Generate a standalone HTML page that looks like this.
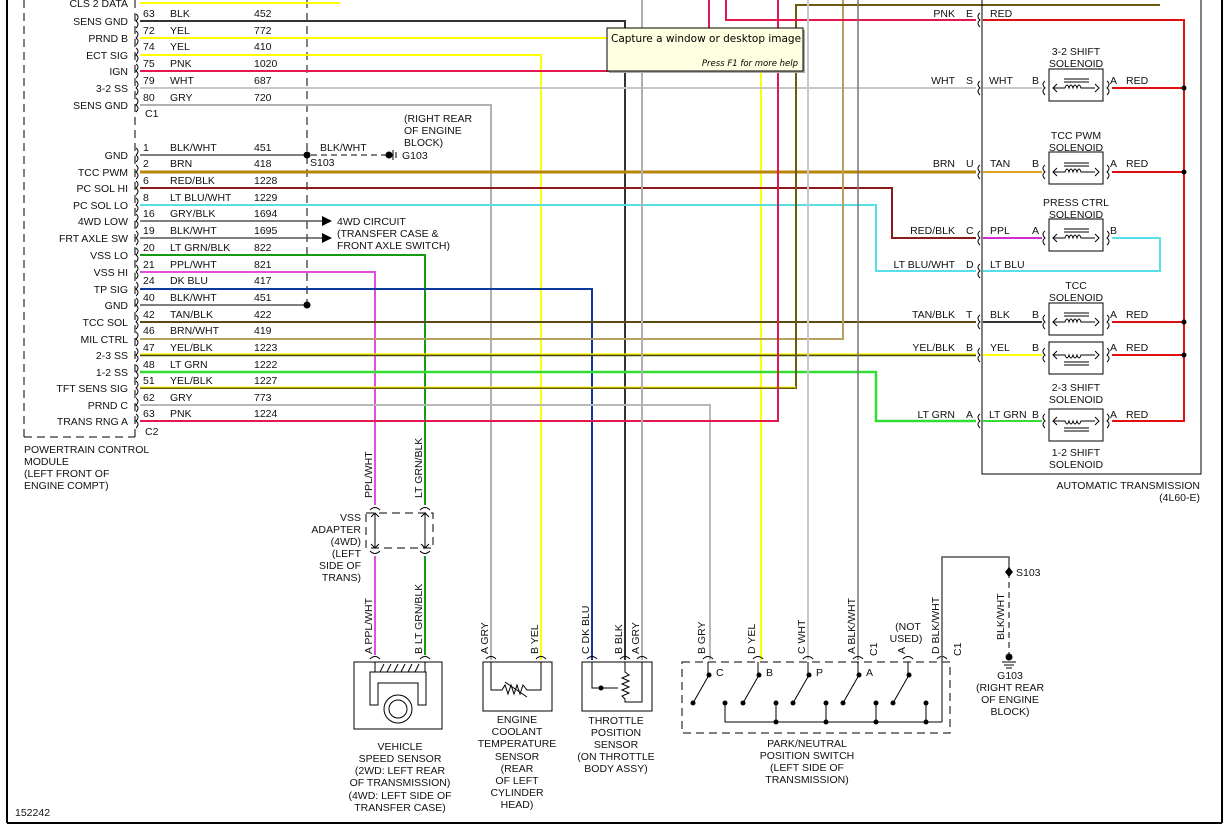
<!DOCTYPE html>
<html><head><meta charset="utf-8"><style>
html,body{margin:0;padding:0;background:#fff;}
svg{display:block;}
text{font-family:"Liberation Sans",sans-serif;font-size:10.5px;fill:#111;}
.r{text-anchor:end}.m{text-anchor:middle}
</style></head><body>
<svg width="1229" height="828" viewBox="0 0 1229 828" xmlns="http://www.w3.org/2000/svg">
<rect width="1229" height="828" fill="#fff"/>
<line x1="7" y1="0" x2="7" y2="823" stroke="#000" stroke-width="2"/>
<line x1="7" y1="823" x2="1222" y2="823" stroke="#000" stroke-width="2"/>
<line x1="1222" y1="0" x2="1222" y2="823" stroke="#000" stroke-width="2"/>
<text x="15" y="816">152242</text>

<g stroke="#000" stroke-width="1" fill="none" stroke-dasharray="8,5">
<line x1="24" y1="0" x2="24" y2="437"/>
<line x1="24" y1="437" x2="135" y2="437"/>
<line x1="135" y1="0" x2="135" y2="437"/>
</g>
<text x="24" y="453">POWERTRAIN CONTROL</text>
<text x="24" y="465">MODULE</text>
<text x="24" y="477">(LEFT FRONT OF</text>
<text x="24" y="489">ENGINE COMPT)</text>
<text x="145" y="117">C1</text>
<text x="145" y="435">C2</text>

<line x1="307" y1="0" x2="307" y2="305" stroke="#000" stroke-dasharray="8,5"/>

<g fill="none" stroke-width="2">
<polyline points="140,3 340,3" stroke="#ffff00"/>
<polyline points="140,21 625,21 625,660" stroke="#333"/>
<polyline points="140,38 608,38" stroke="#ffff00"/>
<polyline points="761,71 761,660" stroke="#ffff00"/>
<polyline points="140,55 541,55 541,660" stroke="#ffff00"/>
<polyline points="140,71 709,71 709,0" stroke="#e3184e"/>
<polyline points="140,88 976,88" stroke="#c8c8c8"/>
<polyline points="140,105 491,105 491,660" stroke="#b0b0b0"/>
<polyline points="140,155 307,155" stroke="#555" stroke-width="1.5"/>
<polyline points="140,172 976,172" stroke="#b8860b" stroke-width="3"/>
<polyline points="140,188 892,188 892,238 976,238" stroke="#8b1a1a"/>
<polyline points="140,205 876,205 876,271 976,271" stroke="#55e0e8"/>
<polyline points="140,221 322,221" stroke="#555" stroke-width="1.5"/>
<polyline points="140,238 322,238" stroke="#555" stroke-width="1.5"/>
<polyline points="140,255 425,255 425,505" stroke="#149a14"/>
<polyline points="425,556 425,655" stroke="#149a14"/>
<polyline points="140,272 375,272 375,505" stroke="#e050e0"/>
<polyline points="375,556 375,655" stroke="#e050e0"/>
<polyline points="140,289 592,289 592,660" stroke="#0a3a9a"/>
<polyline points="140,305 307,305" stroke="#555" stroke-width="1.5"/>
<polyline points="140,322 976,322" stroke="#5a4a10"/>
<polyline points="140,339 843,339 843,0" stroke="#b8a060"/>
<polyline points="140,355 976,355" stroke="#4a4a10" stroke-width="2.5"/>
<polyline points="140,354 976,354" stroke="#ffff00" stroke-width="1.2"/>
<polyline points="140,372 876,372 876,421 976,421" stroke="#33dd33" stroke-width="2.5"/>
<polyline points="140,388 796,388 796,5 1160,5" stroke="#6b5a10"/>
<polyline points="140,387 796,387" stroke="#ffff00" stroke-width="1"/>
<polyline points="140,405 710,405 710,660" stroke="#b8b8b8"/>
<polyline points="140,421 778,421 778,0" stroke="#e3184e"/>
<polyline points="726,0 726,20 976,20" stroke="#e3184e"/>
<polyline points="642,0 642,660" stroke="#b0b0b0"/>
<polyline points="808,0 808,660" stroke="#c8c8c8"/>
<polyline points="858,0 858,660" stroke="#777" stroke-width="1.5"/>
</g>
<g fill="none" stroke="#000" stroke-width="1">
<path d="M136,14 q4,3 0,7 q4,3 0,7"/><path d="M136,31 q4,3 0,7 q4,3 0,7"/><path d="M136,48 q4,3 0,7 q4,3 0,7"/>
<path d="M136,64 q4,3 0,7 q4,3 0,7"/><path d="M136,81 q4,3 0,7 q4,3 0,7"/><path d="M136,98 q4,3 0,7 q4,3 0,7"/>
<path d="M136,148 q4,3 0,7 q4,3 0,7"/><path d="M136,165 q4,3 0,7 q4,3 0,7"/><path d="M136,181 q4,3 0,7 q4,3 0,7"/>
<path d="M136,198 q4,3 0,7 q4,3 0,7"/><path d="M136,214 q4,3 0,7 q4,3 0,7"/><path d="M136,231 q4,3 0,7 q4,3 0,7"/>
<path d="M136,248 q4,3 0,7 q4,3 0,7"/><path d="M136,265 q4,3 0,7 q4,3 0,7"/><path d="M136,282 q4,3 0,7 q4,3 0,7"/>
<path d="M136,298 q4,3 0,7 q4,3 0,7"/><path d="M136,315 q4,3 0,7 q4,3 0,7"/><path d="M136,332 q4,3 0,7 q4,3 0,7"/>
<path d="M136,348 q4,3 0,7 q4,3 0,7"/><path d="M136,365 q4,3 0,7 q4,3 0,7"/><path d="M136,381 q4,3 0,7 q4,3 0,7"/>
<path d="M136,398 q4,3 0,7 q4,3 0,7"/><path d="M136,414 q4,3 0,7 q4,3 0,7"/>
</g>
<g>
<text class="r" x="128" y="7">CLS 2 DATA</text>
<text class="r" x="128" y="25">SENS GND</text><text x="143" y="17">63</text><text x="170" y="17">BLK</text><text x="254" y="17">452</text>
<text class="r" x="128" y="42">PRND B</text><text x="143" y="34">72</text><text x="170" y="34">YEL</text><text x="254" y="34">772</text>
<text class="r" x="128" y="59">ECT SIG</text><text x="143" y="50">74</text><text x="170" y="50">YEL</text><text x="254" y="50">410</text>
<text class="r" x="128" y="75">IGN</text><text x="143" y="67">75</text><text x="170" y="67">PNK</text><text x="254" y="67">1020</text>
<text class="r" x="128" y="92">3-2 SS</text><text x="143" y="84">79</text><text x="170" y="84">WHT</text><text x="254" y="84">687</text>
<text class="r" x="128" y="109">SENS GND</text><text x="143" y="101">80</text><text x="170" y="101">GRY</text><text x="254" y="101">720</text>
<text class="r" x="128" y="159">GND</text><text x="143" y="151">1</text><text x="170" y="151">BLK/WHT</text><text x="254" y="151">451</text>
<text class="r" x="128" y="176">TCC PWM</text><text x="143" y="167">2</text><text x="170" y="167">BRN</text><text x="254" y="167">418</text>
<text class="r" x="128" y="192">PC SOL HI</text><text x="143" y="184">6</text><text x="170" y="184">RED/BLK</text><text x="254" y="184">1228</text>
<text class="r" x="128" y="209">PC SOL LO</text><text x="143" y="201">8</text><text x="170" y="201">LT BLU/WHT</text><text x="254" y="201">1229</text>
<text class="r" x="128" y="225">4WD LOW</text><text x="143" y="217">16</text><text x="170" y="217">GRY/BLK</text><text x="254" y="217">1694</text>
<text class="r" x="128" y="242">FRT AXLE SW</text><text x="143" y="234">19</text><text x="170" y="234">BLK/WHT</text><text x="254" y="234">1695</text>
<text class="r" x="128" y="259">VSS LO</text><text x="143" y="251">20</text><text x="170" y="251">LT GRN/BLK</text><text x="254" y="251">822</text>
<text class="r" x="128" y="276">VSS HI</text><text x="143" y="268">21</text><text x="170" y="268">PPL/WHT</text><text x="254" y="268">821</text>
<text class="r" x="128" y="293">TP SIG</text><text x="143" y="284">24</text><text x="170" y="284">DK BLU</text><text x="254" y="284">417</text>
<text class="r" x="128" y="309">GND</text><text x="143" y="301">40</text><text x="170" y="301">BLK/WHT</text><text x="254" y="301">451</text>
<text class="r" x="128" y="326">TCC SOL</text><text x="143" y="318">42</text><text x="170" y="318">TAN/BLK</text><text x="254" y="318">422</text>
<text class="r" x="128" y="343">MIL CTRL</text><text x="143" y="334">46</text><text x="170" y="334">BRN/WHT</text><text x="254" y="334">419</text>
<text class="r" x="128" y="359">2-3 SS</text><text x="143" y="351">47</text><text x="170" y="351">YEL/BLK</text><text x="254" y="351">1223</text>
<text class="r" x="128" y="376">1-2 SS</text><text x="143" y="368">48</text><text x="170" y="368">LT GRN</text><text x="254" y="368">1222</text>
<text class="r" x="128" y="392">TFT SENS SIG</text><text x="143" y="384">51</text><text x="170" y="384">YEL/BLK</text><text x="254" y="384">1227</text>
<text class="r" x="128" y="409">PRND C</text><text x="143" y="401">62</text><text x="170" y="401">GRY</text><text x="254" y="401">773</text>
<text class="r" x="128" y="425">TRANS RNG A</text><text x="143" y="417">63</text><text x="170" y="417">PNK</text><text x="254" y="417">1224</text>
</g>
<circle cx="307" cy="155" r="3.5" fill="#000"/><circle cx="307" cy="305" r="3.5" fill="#000"/>
<line x1="311" y1="155" x2="388" y2="155" stroke="#000" stroke-dasharray="6,4"/>
<circle cx="389" cy="155" r="3.5" fill="#000"/>
<line x1="393" y1="150" x2="393" y2="160" stroke="#000"/><line x1="396" y1="152" x2="396" y2="158" stroke="#000"/>
<text x="320" y="151">BLK/WHT</text><text x="310" y="166">S103</text>
<text x="404" y="122">(RIGHT REAR</text><text x="404" y="134">OF ENGINE</text><text x="404" y="146">BLOCK)</text><text x="402" y="159">G103</text>
<path d="M322,216 l10,5 l-10,5z M322,233 l10,5 l-10,5z" fill="#000"/>
<text x="337" y="225">4WD CIRCUIT</text><text x="337" y="237">(TRANSFER CASE &amp;</text><text x="337" y="249">FRONT AXLE SWITCH)</text>

<rect x="982" y="-2" width="219" height="476" fill="none" stroke="#000"/>
<text class="r" x="1200" y="489">AUTOMATIC TRANSMISSION</text>
<text class="r" x="1200" y="501">(4L60-E)</text>
<g fill="none" stroke-width="2">
<polyline points="983,20 1184,20 1184,421 1112,421" stroke="#e01010"/>
<line x1="1112" y1="88" x2="1184" y2="88" stroke="#e01010"/>
<line x1="1112" y1="172" x2="1184" y2="172" stroke="#e01010"/>
<line x1="1112" y1="322" x2="1184" y2="322" stroke="#e01010"/>
<line x1="1112" y1="355" x2="1184" y2="355" stroke="#e01010"/>
<line x1="983" y1="88" x2="1042" y2="88" stroke="#c8c8c8"/>
<line x1="983" y1="172" x2="1042" y2="172" stroke="#e0a020"/>
<line x1="983" y1="238" x2="1042" y2="238" stroke="#cc30cc"/>
<polyline points="1112,238 1160,238 1160,271 983,271" stroke="#55e0e8"/>
<line x1="983" y1="322" x2="1042" y2="322" stroke="#333"/>
<line x1="983" y1="355" x2="1042" y2="355" stroke="#ffff00"/>
<line x1="983" y1="421" x2="1042" y2="421" stroke="#33dd33"/>
</g>
<g fill="#000"><circle cx="1184" cy="88" r="2.5"/><circle cx="1184" cy="172" r="2.5"/><circle cx="1184" cy="322" r="2.5"/><circle cx="1184" cy="355" r="2.5"/></g>
<g fill="none" stroke="#000">
<path d="M980,13 q-4,3 0,7 q-4,3 0,7"/><path d="M980,81 q-4,3 0,7 q-4,3 0,7"/><path d="M980,165 q-4,3 0,7 q-4,3 0,7"/>
<path d="M980,231 q-4,3 0,7 q-4,3 0,7"/><path d="M980,264 q-4,3 0,7 q-4,3 0,7"/><path d="M980,315 q-4,3 0,7 q-4,3 0,7"/>
<path d="M980,348 q-4,3 0,7 q-4,3 0,7"/><path d="M980,414 q-4,3 0,7 q-4,3 0,7"/>
</g>
<g>
<text class="r" x="955" y="17">PNK</text><text x="966" y="17">E</text><text x="990" y="17">RED</text>
<text class="r" x="955" y="84">WHT</text><text x="966" y="84">S</text><text x="989" y="84">WHT</text><text x="1032" y="84">B</text><text x="1110" y="84">A</text><text x="1126" y="84">RED</text>
<text class="r" x="955" y="167">BRN</text><text x="966" y="167">U</text><text x="990" y="167">TAN</text><text x="1032" y="167">B</text><text x="1110" y="167">A</text><text x="1126" y="167">RED</text>
<text class="r" x="955" y="234">RED/BLK</text><text x="966" y="234">C</text><text x="990" y="234">PPL</text><text x="1032" y="234">A</text><text x="1110" y="234">B</text>
<text class="r" x="955" y="268">LT BLU/WHT</text><text x="966" y="268">D</text><text x="990" y="268">LT BLU</text>
<text class="r" x="955" y="318">TAN/BLK</text><text x="966" y="318">T</text><text x="990" y="318">BLK</text><text x="1032" y="318">B</text><text x="1110" y="318">A</text><text x="1126" y="318">RED</text>
<text class="r" x="955" y="351">YEL/BLK</text><text x="966" y="351">B</text><text x="990" y="351">YEL</text><text x="1032" y="351">B</text><text x="1110" y="351">A</text><text x="1126" y="351">RED</text>
<text class="r" x="955" y="418">LT GRN</text><text x="966" y="418">A</text><text x="989" y="418">LT GRN</text><text x="1032" y="418">B</text><text x="1110" y="418">A</text><text x="1126" y="418">RED</text>
<text class="m" x="1076" y="55">3-2 SHIFT</text><text class="m" x="1076" y="67">SOLENOID</text>
<text class="m" x="1076" y="139">TCC PWM</text><text class="m" x="1076" y="151">SOLENOID</text>
<text class="m" x="1076" y="206">PRESS CTRL</text><text class="m" x="1076" y="218">SOLENOID</text>
<text class="m" x="1076" y="289">TCC</text><text class="m" x="1076" y="301">SOLENOID</text>
<text class="m" x="1076" y="391">2-3 SHIFT</text><text class="m" x="1076" y="403">SOLENOID</text>
<text class="m" x="1076" y="456">1-2 SHIFT</text><text class="m" x="1076" y="468">SOLENOID</text>
</g>
<g fill="none" stroke="#000">
<rect x="1049" y="69" width="54" height="32"/><rect x="1049" y="152" width="54" height="32"/>
<rect x="1049" y="219" width="54" height="32"/><rect x="1049" y="303" width="54" height="32"/>
<rect x="1049" y="342" width="54" height="32"/><rect x="1049" y="409" width="54" height="32"/>
<g id="coil"><path d="M1053,88 h12 q2,-6 4,0 q2,-6 4,0 q2,-6 4,0 q2,-6 4,0 h14"/><line x1="1064" y1="79" x2="1089" y2="79"/><line x1="1064" y1="82" x2="1089" y2="82"/><path d="M1057,84 l-4,4 l4,4 M1095,84 l4,4 l-4,4"/></g>
<use href="#coil" y="84"/><use href="#coil" y="150"/><use href="#coil" y="234"/>
<g id="coil2"><path d="M1053,355 h12 q2,6 4,0 q2,6 4,0 q2,6 4,0 q2,6 4,0 h14"/><line x1="1064" y1="362" x2="1089" y2="362"/><line x1="1064" y1="365" x2="1089" y2="365"/><path d="M1057,351 l-4,4 l4,4 M1095,351 l4,4 l-4,4"/></g>
<use href="#coil2" y="66"/>
<path d="M1045,81 q-4,3 0,7 q-4,3 0,7 M1107,81 q4,3 0,7 q4,3 0,7"/>
<path d="M1045,165 q-4,3 0,7 q-4,3 0,7 M1107,165 q4,3 0,7 q4,3 0,7"/>
<path d="M1045,231 q-4,3 0,7 q-4,3 0,7 M1107,231 q4,3 0,7 q4,3 0,7"/>
<path d="M1045,315 q-4,3 0,7 q-4,3 0,7 M1107,315 q4,3 0,7 q4,3 0,7"/>
<path d="M1045,348 q-4,3 0,7 q-4,3 0,7 M1107,348 q4,3 0,7 q4,3 0,7"/>
<path d="M1045,414 q-4,3 0,7 q-4,3 0,7 M1107,414 q4,3 0,7 q4,3 0,7"/>
</g>

<rect x="609" y="30" width="196" height="43" fill="#aaa"/>
<rect x="607" y="28" width="196" height="43" fill="#ffffe1" stroke="#000"/>
<text x="611" y="42" style="font-size:10.5px;font-family:'DejaVu Sans',sans-serif;fill:#000">Capture a window or desktop image</text>
<text x="798" y="66" class="r" style="font-size:8.5px;font-style:italic;font-family:'DejaVu Sans',sans-serif;fill:#000">Press F1 for more help</text>

<rect x="366" y="513" width="67" height="35" fill="none" stroke="#000" stroke-dasharray="8,5"/>
<g stroke="#000" fill="none">
<line x1="375" y1="513" x2="375" y2="548"/><line x1="425" y1="513" x2="425" y2="548"/>
<path d="M371,517 l4,-4 l4,4 M371,544 l4,4 l4,-4 M421,517 l4,-4 l4,4 M421,544 l4,4 l4,-4"/>
<path d="M370,510 q5,-5 10,0 M420,510 q5,-5 10,0 M370,551 q5,5 10,0 M420,551 q5,5 10,0"/>
</g>
<text class="r" x="361" y="521">VSS</text><text class="r" x="361" y="533">ADAPTER</text><text class="r" x="361" y="545">(4WD)</text>
<text class="r" x="361" y="557">(LEFT</text><text class="r" x="361" y="569">SIDE OF</text><text class="r" x="361" y="581">TRANS)</text>
<text transform="translate(372,498) rotate(-90)">PPL/WHT</text>
<text transform="translate(422,498) rotate(-90)">LT GRN/BLK</text>
<text transform="translate(372,654) rotate(-90)">A   PPL/WHT</text>
<text transform="translate(422,654) rotate(-90)">B   LT GRN/BLK</text>

<g stroke="#000" fill="none">
<rect x="354" y="662" width="88" height="67"/>
<path d="M370,705 v-33 h56 v33 h-8 v-22 h-40 v22z"/>
<path d="M380,672 l4,-8 M387,672 l4,-8 M394,672 l4,-8 M401,672 l4,-8 M408,672 l4,-8 M415,672 l4,-8"/>
<circle cx="398" cy="709" r="14"/><circle cx="398" cy="709" r="9"/>
<line x1="375" y1="662" x2="375" y2="672"/><line x1="425" y1="662" x2="425" y2="672"/>
<path d="M370,659 q5,-5 10,0 M420,659 q5,-5 10,0"/>
</g>
<text class="m" x="400" y="750">VEHICLE</text><text class="m" x="400" y="762">SPEED SENSOR</text>
<text class="m" x="400" y="774">(2WD: LEFT REAR</text><text class="m" x="400" y="786">OF TRANSMISSION)</text>
<text class="m" x="400" y="799">(4WD: LEFT SIDE OF</text><text class="m" x="400" y="811">TRANSFER CASE)</text>

<g stroke="#000" fill="none">
<rect x="483" y="662" width="69" height="49"/>
<polyline points="491,662 491,690 502,690 505,685 508,694 511,685 514,694 517,685 520,694 523,685 527,690 541,690 541,662"/>
<line x1="505" y1="682" x2="527" y2="697"/>
<path d="M486,659 q5,-5 10,0 M536,659 q5,-5 10,0"/>
</g>
<text class="m" x="517" y="723">ENGINE</text><text class="m" x="517" y="735">COOLANT</text><text class="m" x="517" y="747">TEMPERATURE</text>
<text class="m" x="517" y="760">SENSOR</text><text class="m" x="517" y="772">(REAR</text><text class="m" x="517" y="784">OF LEFT</text>
<text class="m" x="517" y="796">CYLINDER</text><text class="m" x="517" y="808">HEAD)</text>
<text transform="translate(488,654) rotate(-90)">A   GRY</text>
<text transform="translate(538,654) rotate(-90)">B   YEL</text>

<g stroke="#000" fill="none">
<rect x="582" y="662" width="70" height="49"/>
<polyline points="592,662 592,688 618,688"/>
<polyline points="625,662 625,672 629,675 622,678 629,681 622,684 629,687 622,690 629,693 622,696 625,699 625,702 642,702 642,662"/>
<path d="M587,659 q5,-5 10,0 M620,659 q5,-5 10,0 M637,659 q5,-5 10,0"/>
</g>
<circle cx="601" cy="688" r="2.5" fill="#000"/>
<text class="m" x="616" y="724">THROTTLE</text><text class="m" x="616" y="736">POSITION</text><text class="m" x="616" y="748">SENSOR</text>
<text class="m" x="616" y="760">(ON THROTTLE</text><text class="m" x="616" y="772">BODY ASSY)</text>
<text transform="translate(589,654) rotate(-90)">C   DK BLU</text>
<text transform="translate(622,654) rotate(-90)">B   BLK</text>
<text transform="translate(639,654) rotate(-90)">A   GRY</text>

<rect x="682" y="662" width="268" height="71" fill="none" stroke="#000" stroke-dasharray="8,5"/>
<g stroke="#000" fill="none">
<line x1="708" y1="662" x2="708" y2="675"/><line x1="758" y1="662" x2="758" y2="675"/><line x1="808" y1="662" x2="808" y2="675"/>
<line x1="858" y1="662" x2="858" y2="675"/><line x1="908" y1="662" x2="908" y2="675"/><line x1="942" y1="662" x2="942" y2="722"/>
<line x1="709" y1="675" x2="693" y2="703"/><line x1="759" y1="675" x2="743" y2="703"/><line x1="809" y1="675" x2="793" y2="703"/>
<line x1="859" y1="675" x2="843" y2="703"/><line x1="909" y1="675" x2="893" y2="703"/>
<polyline points="725,703 725,722 942,722"/>
<line x1="776" y1="703" x2="776" y2="722"/><line x1="826" y1="703" x2="826" y2="722"/><line x1="876" y1="703" x2="876" y2="722"/><line x1="926" y1="703" x2="926" y2="722"/>
<path d="M703,659 q5,-5 10,0 M753,659 q5,-5 10,0 M803,659 q5,-5 10,0 M853,659 q5,-5 10,0 M903,659 q5,-5 10,0 M937,659 q5,-5 10,0"/>
</g>
<g fill="#000">
<circle cx="709" cy="675" r="2.5"/><circle cx="759" cy="675" r="2.5"/><circle cx="809" cy="675" r="2.5"/><circle cx="859" cy="675" r="2.5"/><circle cx="909" cy="675" r="2.5"/>
<circle cx="693" cy="703" r="2.5"/><circle cx="743" cy="703" r="2.5"/><circle cx="793" cy="703" r="2.5"/><circle cx="843" cy="703" r="2.5"/><circle cx="893" cy="703" r="2.5"/>
<circle cx="725" cy="703" r="2.5"/><circle cx="776" cy="703" r="2.5"/><circle cx="826" cy="703" r="2.5"/><circle cx="876" cy="703" r="2.5"/><circle cx="926" cy="703" r="2.5"/>
<circle cx="776" cy="722" r="2.5"/><circle cx="826" cy="722" r="2.5"/><circle cx="876" cy="722" r="2.5"/><circle cx="926" cy="722" r="2.5"/>
</g>
<text x="716" y="676">C</text><text x="766" y="676">B</text><text x="816" y="676">P</text><text x="866" y="676">A</text>
<text class="m" x="807" y="747">PARK/NEUTRAL</text><text class="m" x="807" y="759">POSITION SWITCH</text>
<text class="m" x="807" y="771">(LEFT SIDE OF</text><text class="m" x="807" y="783">TRANSMISSION)</text>
<text transform="translate(705,654) rotate(-90)">B   GRY</text>
<text transform="translate(755,654) rotate(-90)">D   YEL</text>
<text transform="translate(805,654) rotate(-90)">C   WHT</text>
<text transform="translate(855,654) rotate(-90)">A   BLK/WHT</text>
<text transform="translate(877,656) rotate(-90)">C1</text>
<text transform="translate(905,654) rotate(-90)">A</text>
<text transform="translate(939,654) rotate(-90)">D   BLK/WHT</text>
<text transform="translate(961,656) rotate(-90)">C1</text>
<text class="m" x="908" y="630">(NOT</text><text class="m" x="906" y="642">USED)</text>

<polyline points="942,662 942,557 1009,557 1009,572" fill="none" stroke="#555" stroke-width="1.5"/>
<line x1="1009" y1="572" x2="1009" y2="655" stroke="#000" stroke-dasharray="6,4"/>
<path d="M1009,567 l4,5 l-4,5 l-4,-5z" fill="#000"/>
<circle cx="1009" cy="657" r="3.5" fill="#000"/>
<line x1="1002" y1="662" x2="1016" y2="662" stroke="#000"/><line x1="1004" y1="665" x2="1014" y2="665" stroke="#000"/><line x1="1006" y1="668" x2="1012" y2="668" stroke="#000"/>
<text x="1016" y="576">S103</text>
<text transform="translate(1004,640) rotate(-90)">BLK/WHT</text>
<text class="m" x="1010" y="679">G103</text><text class="m" x="1010" y="691">(RIGHT REAR</text>
<text class="m" x="1010" y="703">OF ENGINE</text><text class="m" x="1010" y="715">BLOCK)</text>
</svg>
</body></html>
